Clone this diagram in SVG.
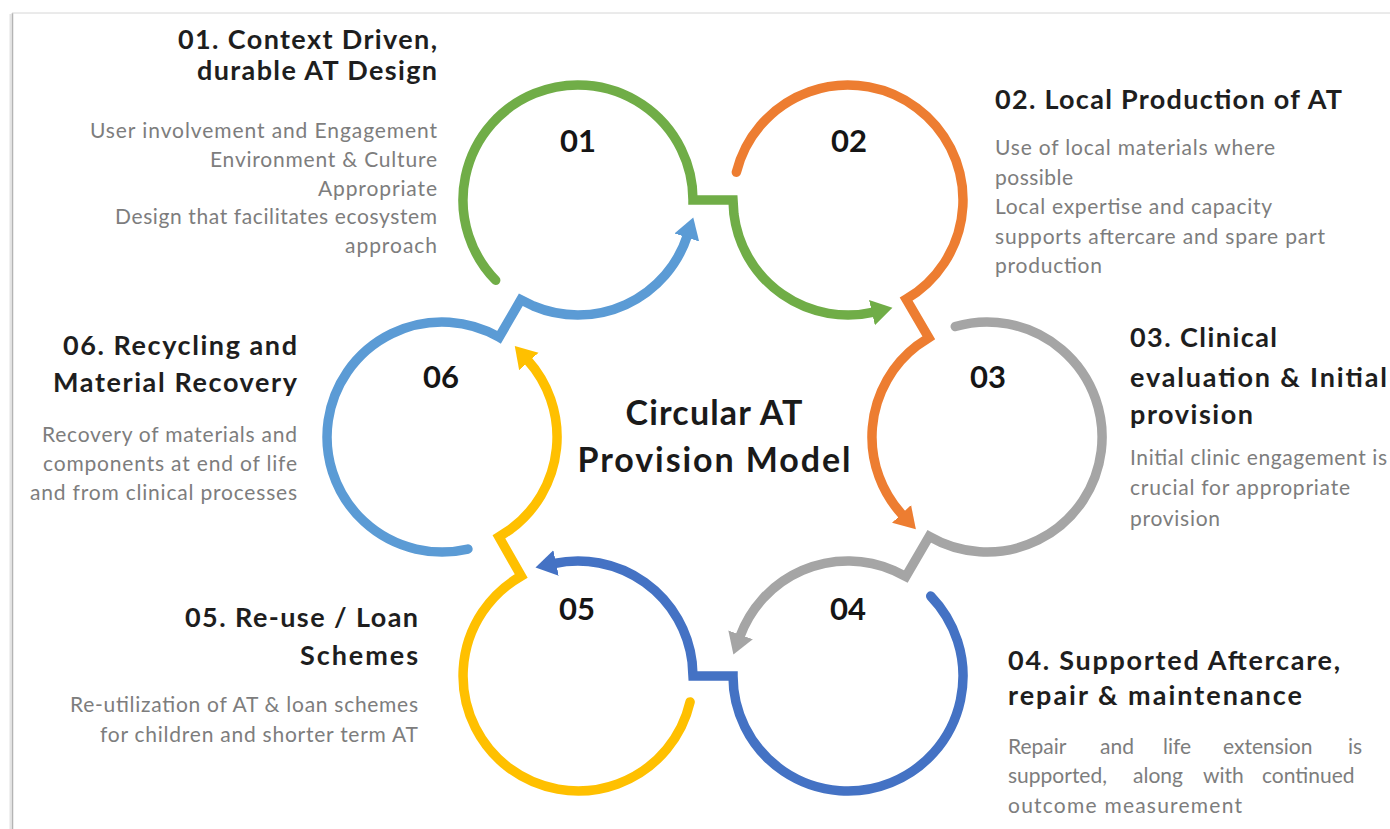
<svg xmlns="http://www.w3.org/2000/svg" width="1390" height="829" viewBox="0 0 1390 829">
<style>
text{font-family:Lato,"Open Sans","Liberation Sans",sans-serif}
.h{font-weight:700;font-size:27px;fill:#1e1e1e}
.b{font-size:21px;fill:#7d7d7d}
.e{text-anchor:end}
.num{font-weight:700;font-size:31px;fill:#151515;text-anchor:middle}
.title{font-weight:700;font-size:34px;fill:#1a1a1a;text-anchor:middle}
.ring{fill:none;stroke-width:9.5;stroke-linecap:round;stroke-linejoin:miter}
</style>
<defs>
<marker id="ah-green" markerUnits="userSpaceOnUse" markerWidth="22" markerHeight="28" viewBox="0 0 22 28" refX="2" refY="14" orient="auto"><path d="M0,1 L21,14 L0,27 Z" fill="#70ad47"/></marker>
<marker id="ah-orange" markerUnits="userSpaceOnUse" markerWidth="22" markerHeight="28" viewBox="0 0 22 28" refX="2" refY="14" orient="auto"><path d="M0,1 L21,14 L0,27 Z" fill="#ed7d31"/></marker>
<marker id="ah-gray" markerUnits="userSpaceOnUse" markerWidth="22" markerHeight="28" viewBox="0 0 22 28" refX="2" refY="14" orient="auto"><path d="M0,1 L21,14 L0,27 Z" fill="#a5a5a5"/></marker>
<marker id="ah-blue" markerUnits="userSpaceOnUse" markerWidth="22" markerHeight="28" viewBox="0 0 22 28" refX="2" refY="14" orient="auto"><path d="M0,1 L21,14 L0,27 Z" fill="#4472c4"/></marker>
<marker id="ah-yellow" markerUnits="userSpaceOnUse" markerWidth="22" markerHeight="28" viewBox="0 0 22 28" refX="2" refY="14" orient="auto"><path d="M0,1 L21,14 L0,27 Z" fill="#ffc000"/></marker>
<marker id="ah-lblue" markerUnits="userSpaceOnUse" markerWidth="22" markerHeight="28" viewBox="0 0 22 28" refX="2" refY="14" orient="auto"><path d="M0,1 L21,14 L0,27 Z" fill="#5b9bd5"/></marker>
</defs>
<rect width="1390" height="829" fill="#ffffff"/>
<g id="frame">
<line x1="10.5" y1="14" x2="10.5" y2="829" stroke="#e4e4e4" stroke-width="2"/>
<line x1="12.5" y1="13" x2="12.5" y2="829" stroke="#b4b4b4" stroke-width="1.5"/>
<line x1="12" y1="13" x2="1390" y2="13" stroke="#d6d6d6" stroke-width="1"/>
</g>
<g id="connectors">
<path class="ring" stroke="#70ad47" marker-end="url(#ah-green)" d="M495.7,280.3 A115,115 0 1,1 693,200 L733,200 L733.9,214 A115,115 0 0,0 873.9,312.1"/>
<path class="ring" stroke="#ed7d31" marker-end="url(#ah-orange)" d="M736.4,172.2 A115,115 0 1,1 906.2,299.2 L928.8,337.8 L917.1,345.6 A115,115 0 0,0 902.9,515.4"/>
<path class="ring" stroke="#a5a5a5" marker-end="url(#ah-gray)" d="M955.3,326.5 A115,115 0 1,1 929.2,536.4 L905.8,576.6 L893.3,570.3 A115,115 0 0,0 739.9,636.7"/>
<path class="ring" stroke="#4472c4" marker-end="url(#ah-blue)" d="M930.7,596.1 A115,115 0 1,1 733,676 L693,676 L692.1,662 A115,115 0 0,0 554.1,563.5"/>
<path class="ring" stroke="#ffc000" marker-end="url(#ah-yellow)" d="M690.1,701.9 A115,115 0 1,1 521.2,576 L498.9,536.9 L510.6,529.3 A115,115 0 0,0 527.5,360"/>
<path class="ring" stroke="#5b9bd5" marker-end="url(#ah-lblue)" d="M467.9,549.1 A115,115 0 1,1 499.1,337.2 L520.8,299.8 L533.4,306 A115,115 0 0,0 687.4,235.5"/>
</g>
<g id="title">
<text class="title" x="714" y="425" textLength="177">Circular AT</text>
<text class="title" x="714" y="472" textLength="273">Provision Model</text>
</g>
<g id="step-01">
<text class="num" x="578" y="152">01</text>
<text class="h e" x="437" y="49" textLength="259">01. Context Driven,</text>
<text class="h e" x="437" y="80" textLength="240">durable AT Design</text>
<text class="b e" x="437" y="138" textLength="347">User involvement and Engagement</text>
<text class="b e" x="437" y="167" textLength="227">Environment &amp; Culture</text>
<text class="b e" x="437" y="196" textLength="119">Appropriate</text>
<text class="b e" x="437" y="224" textLength="322">Design that facilitates ecosystem</text>
<text class="b e" x="437" y="253" textLength="92">approach</text>
</g>
<g id="step-02">
<text class="num" x="849" y="152">02</text>
<text class="h" x="995" y="109" textLength="347">02. Local Production of AT</text>
<text class="b" x="995" y="155" textLength="280">Use of local materials where</text>
<text class="b" x="995" y="184.5" textLength="78">possible</text>
<text class="b" x="995" y="214" textLength="277">Local expertise and capacity</text>
<text class="b" x="995" y="243.5" textLength="330">supports aftercare and spare part</text>
<text class="b" x="995" y="273" textLength="107">production</text>
</g>
<g id="step-03">
<text class="num" x="988" y="388">03</text>
<text class="h" x="1130" y="347" textLength="147">03. Clinical</text>
<text class="h" x="1130" y="387" textLength="257">evaluation &amp; Initial</text>
<text class="h" x="1130" y="424" textLength="123">provision</text>
<text class="b" x="1130" y="465" textLength="257">Initial clinic engagement is</text>
<text class="b" x="1130" y="495" textLength="220">crucial for appropriate</text>
<text class="b" x="1130" y="526" textLength="90">provision</text>
</g>
<g id="step-04">
<text class="num" x="848" y="620">04</text>
<text class="h" x="1008" y="670" textLength="332">04. Supported Aftercare,</text>
<text class="h" x="1008" y="705" textLength="294">repair &amp; maintenance</text>
<text class="b" y="754"><tspan x="1008">Repair</tspan><tspan x="1100">and</tspan><tspan x="1163">life</tspan><tspan x="1223">extension</tspan><tspan x="1348">is</tspan></text>
<text class="b" y="783"><tspan x="1008">supported,</tspan><tspan x="1133">along</tspan><tspan x="1203">with</tspan><tspan x="1262">continued</tspan></text>
<text class="b" x="1008" y="813" textLength="234">outcome measurement</text>
</g>
<g id="step-05">
<text class="num" x="577" y="620">05</text>
<text class="h e" x="418" y="627" textLength="233">05. Re-use / Loan</text>
<text class="h e" x="418" y="665" textLength="118">Schemes</text>
<text class="b e" x="418" y="712" textLength="348">Re-utilization of AT &amp; loan schemes</text>
<text class="b e" x="418" y="742" textLength="318">for children and shorter term AT</text>
</g>
<g id="step-06">
<text class="num" x="441" y="388">06</text>
<text class="h e" x="297" y="355" textLength="234">06. Recycling and</text>
<text class="h e" x="297" y="392" textLength="244">Material Recovery</text>
<text class="b e" x="297" y="442" textLength="255">Recovery of materials and</text>
<text class="b e" x="297" y="471" textLength="254">components at end of life</text>
<text class="b e" x="297" y="500" textLength="267">and from clinical processes</text>
</g>
</svg>
